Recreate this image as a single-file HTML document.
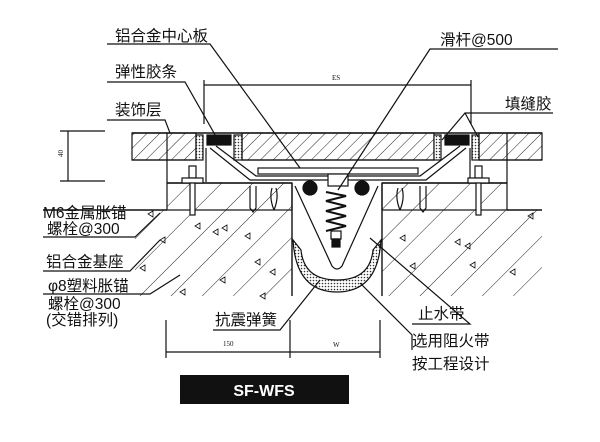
<!DOCTYPE html>
<html><head><meta charset="utf-8"><style>
html,body{margin:0;padding:0;background:#fff;}
svg{display:block;}
text{font-family:"Liberation Sans","Noto Sans CJK SC",sans-serif;fill:#111;}
</style></head><body>
<svg width="600" height="442" viewBox="0 0 600 442" xmlns="http://www.w3.org/2000/svg">
<defs>
<pattern id="h1" width="9" height="9" patternUnits="userSpaceOnUse" patternTransform="rotate(45)">
<line x1="0" y1="0" x2="0" y2="9" stroke="#222" stroke-width="1"/></pattern>
<pattern id="h2" width="22" height="22" patternUnits="userSpaceOnUse" patternTransform="rotate(45)">
<line x1="0" y1="0" x2="0" y2="22" stroke="#222" stroke-width="1"/></pattern>
<pattern id="dots" width="3" height="3" patternUnits="userSpaceOnUse">
<rect width="3" height="3" fill="#fff"/><circle cx="1.5" cy="1.5" r="0.8" fill="#333"/></pattern>
</defs>
<g stroke="#111" fill="none" stroke-width="1.2">
<rect x="132" y="133" width="64" height="27" fill="url(#h1)"/>
<rect x="242" y="133" width="192" height="27" fill="url(#h1)"/>
<rect x="479" y="133" width="63" height="27" fill="url(#h1)"/>
<line x1="132" y1="133" x2="542" y2="133" stroke-width="1.6"/>
<line x1="132" y1="160" x2="196" y2="160"/><line x1="242" y1="160" x2="434" y2="160"/><line x1="479" y1="160" x2="542" y2="160"/>
<line x1="167" y1="133" x2="167" y2="183"/><line x1="507" y1="133" x2="507" y2="183"/>
<rect x="196" y="135" width="7" height="25" fill="url(#dots)"/>
<rect x="234" y="135" width="8" height="25" fill="url(#dots)"/>
<rect x="434" y="135" width="7" height="25" fill="url(#dots)"/>
<rect x="472" y="135" width="7" height="25" fill="url(#dots)"/>
<rect x="207" y="135" width="24" height="10" fill="#111"/>
<rect x="445" y="135" width="24" height="10" fill="#111"/>
<path d="M206 148 L206 182 M210 148 L250 180 L330 180 M216 146 L256 176 L330 176" />
<path d="M470 148 L470 182 M466 148 L426 180 L346 180 M460 146 L420 176 L346 176" />
<rect x="258" y="168" width="160" height="6" fill="#fff"/>
<rect x="328" y="174" width="20" height="12" fill="#fff"/>
<line x1="204" y1="85" x2="471" y2="85"/>
<line x1="204" y1="80" x2="204" y2="124"/><line x1="471" y1="80" x2="471" y2="124"/>
<line x1="68" y1="131" x2="68" y2="181"/>
<line x1="60" y1="131" x2="105" y2="131"/><line x1="60" y1="181" x2="105" y2="181"/>
<rect x="167" y="183" width="125" height="27" fill="url(#h2)"/>
<rect x="382" y="183" width="125" height="27" fill="url(#h2)"/>
<line x1="167" y1="183" x2="292" y2="183" stroke-width="1.6"/>
<line x1="382" y1="183" x2="507" y2="183" stroke-width="1.6"/>
<path d="M135 210 L292 210 L292 296 L135 296 Z" fill="url(#h2)" stroke="none"/>
<path d="M382 210 L542 210 L542 296 L382 296 Z" fill="url(#h2)" stroke="none"/>
<line x1="43" y1="210" x2="167" y2="210" stroke-width="1.6"/>
<line x1="507" y1="210" x2="542" y2="210" stroke-width="1.6"/>
<line x1="292" y1="183" x2="292" y2="296" stroke-width="1.4"/>
<line x1="382" y1="183" x2="382" y2="296" stroke-width="1.4"/>
<rect x="189" y="166" width="7" height="12" fill="#fff"/><rect x="182" y="178" width="21" height="5" fill="#fff"/>
<rect x="190" y="183" width="5" height="32" fill="#fff"/>
<rect x="475" y="166" width="7" height="12" fill="#fff"/><rect x="468" y="178" width="21" height="5" fill="#fff"/>
<rect x="476" y="183" width="5" height="32" fill="#fff"/>
<path d="M250 186 l0 22 l3 4 l3 -4 l0 -22 M272 188 q-3 10 2 22 M276 188 q3 10 -2 22"/>
<path d="M420 186 l0 22 l3 4 l3 -4 l0 -22 M398 188 q-3 10 2 22 M402 188 q3 10 -2 22"/>
<path d="M295 186 L332 266 Q337 272 342 266 L378 186"/>
<circle cx="310" cy="188" r="7" fill="#111"/><circle cx="362" cy="188" r="7" fill="#111"/>
<path d="M326 192 L346 196 L326 201 L346 206 L326 211 L346 216 L326 221 L346 226 L326 231" stroke-width="2"/>
<rect x="331" y="231" width="10" height="8" fill="#fff"/><rect x="332" y="239" width="8" height="8" fill="#111"/>
<path d="M293 240 Q296 292 337 292 Q378 292 381 240 L373 250 Q370 280 337 280 Q304 280 301 250 Z" fill="url(#dots)"/>
<g stroke-width="0.8">
<path d="M195 226 l5 -3 l0 6z M213 232 l5 -3 l0 6z M222 228 l5 -3 l0 6z M245 236 l5 -3 l0 6z M160 240 l5 -3 l0 6z M255 262 l5 -3 l0 6z M140 268 l5 -3 l0 6z M180 292 l5 -3 l0 6z M220 280 l5 -3 l0 6z M260 296 l5 -3 l0 6z M400 238 l5 -3 l0 6z M455 242 l5 -3 l0 6z M465 246 l5 -3 l0 6z M410 266 l5 -3 l0 6z M470 265 l5 -3 l0 6z M528 216 l5 -3 l0 6z M510 272 l5 -3 l0 6z M148 214 l5 -3 l0 6z M270 272 l5 -3 l0 6z"/>
</g>
<path d="M107 44 L210 44 L300 168"/>
<path d="M558 49 L430 49 L338 190"/>
<path d="M107 82 L185 82 L218 140"/>
<path d="M107 120 L165 120 L170 133"/>
<path d="M553 113 L465 113 L442 140 M465 113 L478 137"/>
<path d="M43 237 L135 237 L160 213"/>
<path d="M43 271 L130 271 L160 240"/>
<path d="M43 294 L150 294 L180 275"/>
<path d="M213 330 L280 330 L320 280"/>
<path d="M412 324 L470 324 L370 238"/>
<path d="M412 350 L412 335 L360 283"/>
<line x1="166" y1="352" x2="380" y2="352"/>
<line x1="166" y1="320" x2="166" y2="358"/><line x1="290" y1="320" x2="290" y2="358"/><line x1="380" y1="320" x2="380" y2="358"/>
</g>
<g font-size="7">
<text x="332" y="80" style="font-family:'Liberation Serif',serif">ES</text>
<text x="60" y="160" transform="rotate(-90 60 157)" style="font-family:'Liberation Serif',serif">40</text>
<text x="223" y="346" style="font-family:'Liberation Serif',serif">150</text>
<text x="333" y="347" style="font-family:'Liberation Serif',serif">W</text>
</g>
<g font-size="15.5">
<text x="115" y="41">铝合金中心板</text>
<text x="440" y="45">滑杆@500</text>
<text x="115" y="77">弹性胶条</text>
<text x="115" y="115">装饰层</text>
<text x="505" y="109">填缝胶</text>
<text x="43" y="218">M6金属胀锚</text>
<text x="47" y="234">螺栓@300</text>
<text x="46" y="267">铝合金基座</text>
<text x="48" y="291">φ8塑料胀锚</text>
<text x="48" y="309">螺栓@300</text>
<text x="46" y="325">(交错排列)</text>
<text x="215" y="325">抗震弹簧</text>
<text x="418" y="319">止水带</text>
<text x="412" y="346">选用阻火带</text>
<text x="412" y="369">按工程设计</text>
</g>
<rect x="180" y="375" width="169" height="29" fill="#111"/>
<text x="264" y="396" text-anchor="middle" font-size="16" font-weight="bold" style="fill:#fff">SF-WFS</text>
</svg>
</body></html>
